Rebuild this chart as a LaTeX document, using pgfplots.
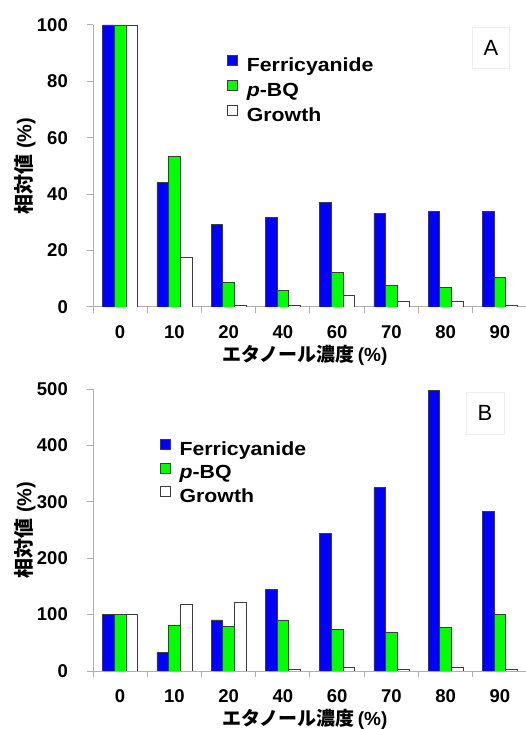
\documentclass[border=0pt]{standalone}
\usepackage{pgfplots}
\pgfplotsset{compat=1.18}
\usepackage{fontspec}
\setmainfont{Liberation Sans}
\newfontfamily\legfont{Liberation Sans}[FakeStretch=1.12]
\newfontfamily\cjk{Noto Sans CJK JP}
\definecolor{fblue}{RGB}{0,0,255}
\definecolor{fgreen}{RGB}{0,255,0}
\definecolor{edge}{RGB}{60,60,60}
\definecolor{axgray}{RGB}{175,175,175}
\definecolor{boxgray}{RGB}{238,238,238}

\pgfplotsset{
  sqleg/.style={legend image code/.code={\draw[##1,line width=0.6bp] (0bp,1bp) rectangle (10bp,11bp);}},
  mybar/.style={
    scale only axis, width=434bp, height=282bp,
    xmin=-0.5, xmax=7.5, ymin=0,
    axis x line*=bottom, axis y line*=left,
    axis line style={axgray, line width=1bp},
    ybar=0pt, bar width=11.7bp,
    xtick={0,...,7}, xticklabels={0,10,20,40,60,70,80,90},
    major x tick style={draw=none},
    minor xtick={-0.5,0.5,...,7.5},
    minor x tick style={axgray, line width=1bp},
    tick align=outside, minor tick length=6bp, major tick length=6bp,
    y tick style={axgray, line width=1bp},
    /pgf/number format/assume math mode=true,
    ticklabel style={font=\fontsize{18.5bp}{20bp}\selectfont\bfseries},
    xticklabel style={inner sep=0pt, yshift=-12bp},
    yticklabel style={inner sep=0pt, xshift=-19bp},
    xlabel={{\cjk\bfseries エタノール濃度}\,\textbf{(\%)}},
    xlabel style={font=\fontsize{19bp}{21bp}\selectfont, inner sep=0pt, anchor=north, at={(axis description cs:0.488,0)}, yshift=-38bp},
    ylabel={{\cjk\bfseries 相対値}\ \textbf{(\%)}},
    ylabel style={font=\fontsize{20bp}{22bp}\selectfont, inner sep=0pt, anchor=center, at={(axis description cs:-0.157,0.5)}},
    legend cell align=left,
    legend style={draw=none, fill=none, inner sep=0pt, column sep=9bp,
      font=\fontsize{19bp}{21bp}\selectfont\legfont\bfseries,
      nodes={inner sep=0pt, text depth=4bp, text height=14bp}},
    every axis plot/.append style={draw=edge, line width=0.6bp},
  }
}

\begin{document}
\begin{tikzpicture}
\useasboundingbox (0bp,0bp) rectangle (526bp,729bp);
% Panel A
\begin{axis}[mybar, at={(93bp,422bp)}, anchor=south west,
  ymax=100, ytick={0,20,...,100},
  legend style={at={(axis description cs:0.309,0.893)}, anchor=north west, row sep=4.5bp}]
\addplot[fill=fblue, sqleg] coordinates {(0,100) (1,44.2) (2,29.2) (3,31.7) (4,37.2) (5,33.1) (6,34.0) (7,34.0)};
\addplot[fill=fgreen, sqleg] coordinates {(0,100) (1,53.5) (2,8.7) (3,5.8) (4,12.2) (5,7.6) (6,6.9) (7,10.5)};
\addplot[fill=white, sqleg] coordinates {(0,100) (1,17.7) (2,0.6) (3,0.7) (4,4.3) (5,2.0) (6,2.0) (7,0.5)};
\legend{Ferricyanide,\textit{p}-BQ,Growth}
\node[draw=boxgray, line width=0.6bp, minimum width=37bp, minimum height=41bp, font=\fontsize{22bp}{24bp}\selectfont] at (axis description cs:0.917,0.918) {A};
\end{axis}
% Panel B
\begin{axis}[mybar, at={(93bp,58bp)}, anchor=south west,
  ymax=500, ytick={0,100,...,500},
  legend style={at={(axis description cs:0.154,0.822)}, anchor=north west, row sep=3bp}]
\addplot[fill=fblue, sqleg] coordinates {(0,100) (1,32.5) (2,90.5) (3,144.4) (4,243.8) (5,325.4) (6,497.6) (7,283.4)};
\addplot[fill=fgreen, sqleg] coordinates {(0,100) (1,81.7) (2,79.3) (3,90.5) (4,73.4) (5,69.2) (6,76.9) (7,100.6)};
\addplot[fill=white, sqleg] coordinates {(0,100) (1,119) (2,122.5) (3,2.4) (4,6.5) (5,2.4) (6,7.1) (7,3.5)};
\legend{Ferricyanide,\textit{p}-BQ,Growth}
\node[draw=boxgray, line width=0.6bp, minimum width=38bp, minimum height=42bp, font=\fontsize{22bp}{24bp}\selectfont] at (axis description cs:0.903,0.915) {B};
\end{axis}
\end{tikzpicture}
\end{document}
